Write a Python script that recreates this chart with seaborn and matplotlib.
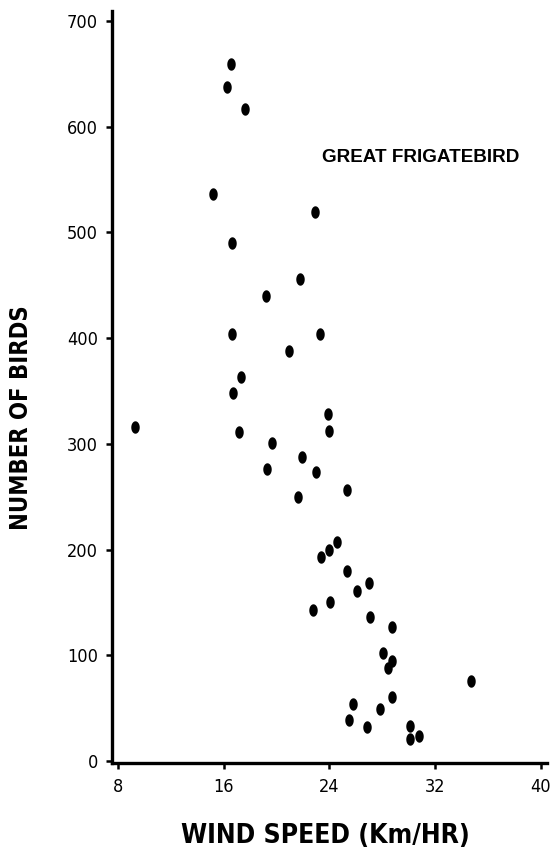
import numpy as np
import pandas as pd
import matplotlib
matplotlib.use("Agg")
import matplotlib.pyplot as plt
from matplotlib import font_manager
from matplotlib.path import Path
import seaborn as sns

# ---- data ----
wind_speed = [16.55, 16.28, 17.6, 15.2, 16.65, 22.9, 21.8, 19.2, 23.3, 16.6,
              20.9, 17.3, 16.7, 23.9, 9.3, 24.0, 17.15, 19.65, 21.9, 19.3,
              22.95, 21.65, 25.3, 24.6, 24.0, 23.35, 25.3, 26.05, 27.0, 22.75,
              24.05, 27.05, 28.75, 28.05, 28.75, 28.4, 28.75, 34.7, 25.8, 25.45,
              27.8, 26.8, 30.1, 30.1, 30.8]
num_birds = [659, 638, 617, 536, 490, 519, 456, 440, 404, 404,
             388, 363, 348, 328, 316, 312, 311, 301, 288, 276,
             273, 250, 256, 207, 200, 193, 180, 161, 168, 143,
             150, 136, 127, 102, 95, 88, 61, 76, 54, 39,
             49, 32, 33, 21, 24]
x_ticks = [8, 16, 24, 32, 40]
y_ticks = [0, 100, 200, 300, 400, 500, 600, 700]
x_label = "WIND SPEED (Km/HR)"
y_label = "NUMBER OF BIRDS"
annotation = "GREAT FRIGATEBIRD"

df = pd.DataFrame({"wind": wind_speed, "birds": num_birds})

sns.set_theme(style="white")
plt.rcParams['font.family'] = ['Liberation Sans', 'DejaVu Sans']
plt.rcParams['text.color'] = 'black'
plt.rcParams['axes.labelcolor'] = 'black'
plt.rcParams['xtick.color'] = 'black'
plt.rcParams['ytick.color'] = 'black'
avail = {f.name for f in font_manager.fontManager.ttflist}
narrow = "Liberation Sans Narrow" if "Liberation Sans Narrow" in avail else None

W, H = 554, 857
fig = plt.figure(figsize=(W / 100, H / 100), dpi=100)
ax = fig.add_axes([112 / W, 1 - 763 / H, (547 - 112) / W, (763 - 11) / H])

# vertical ellipse marker
t = np.linspace(0, 2 * np.pi, 60)
ell = Path(np.column_stack([0.68 * np.cos(t), np.sin(t)]), closed=True)

sns.scatterplot(data=df, x="wind", y="birds", ax=ax, marker=ell, s=80,
                color="black", edgecolor="black", linewidth=0, legend=False)

ax.set_xlim(7.546, 40.454)
ax.set_ylim(-1.89, 709.46)
ax.set_xticks(x_ticks)
ax.set_yticks(y_ticks)

if narrow:
    tick_fp = dict(family=narrow, size=14)
    xl_fp = dict(family=narrow, size=23, weight="bold")
    yl_fp = dict(family=narrow, size=19, weight="bold")
else:
    tick_fp = dict(family="DejaVu Sans", stretch="condensed", size=13)
    xl_fp = dict(family="DejaVu Sans", stretch="condensed", size=19, weight="bold")
    yl_fp = dict(family="DejaVu Sans", stretch="condensed", size=17, weight="bold")

ax.set_xticklabels([str(v) for v in x_ticks], color="black", **tick_fp)
ax.set_yticklabels([str(v) for v in y_ticks], color="black", **tick_fp)

for s in ["top", "right"]:
    ax.spines[s].set_visible(False)
for s in ["left", "bottom"]:
    ax.spines[s].set_linewidth(2.4)
    ax.spines[s].set_color("black")

ax.tick_params(axis="both", direction="out", length=4, width=1.8,
               color="black", labelcolor="black", bottom=True, left=True)
ax.tick_params(axis="x", pad=7)
ax.tick_params(axis="y", pad=6)

ax.set_xlabel("")
ax.set_ylabel("")
fig.text(325 / W, 1 - 836 / H, x_label, ha="center", va="center",
         color="black", **xl_fp)
fig.text(21 / W, 1 - 418 / H, y_label, ha="center", va="center",
         rotation=90, color="black", **yl_fp)

ax.text(421 / W, 1 - 157 / H, annotation, transform=fig.transFigure,
        ha="center", va="center", family="Liberation Sans",
        weight="bold", size=13.6, color="black")

fig.savefig("out.png", dpi=100, facecolor="white")
